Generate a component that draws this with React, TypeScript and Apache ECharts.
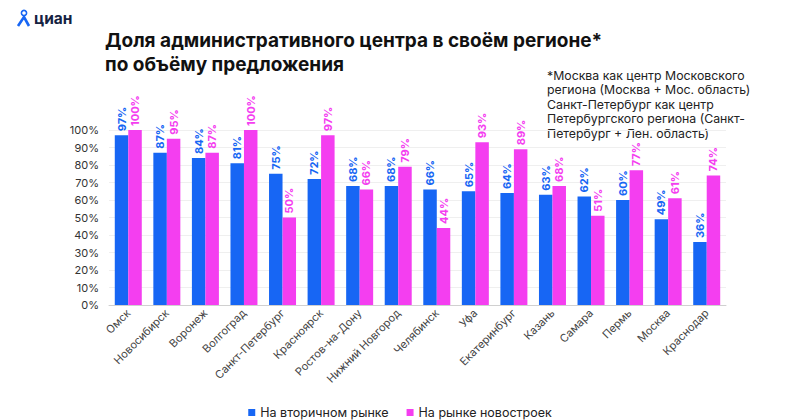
import React, { useEffect, useRef } from "react";
import * as echarts from "echarts";

const categories = [
  "Омск", "Новосибирск", "Воронеж", "Волгоград", "Санкт-Петербург", "Красноярск",
  "Ростов-на-Дону", "Нижний Новгород", "Челябинск", "Уфа", "Екатеринбург",
  "Казань", "Самара", "Пермь", "Москва", "Краснодар",
];
const secondary = [97, 87, 84, 81, 75, 72, 68, 68, 66, 65, 64, 63, 62, 60, 49, 36];
const newBuild = [100, 95, 87, 100, 50, 97, 66, 79, 44, 93, 89, 68, 51, 77, 61, 74];
const seriesNames = ["На вторичном рынке", "На рынке новостроек"];
const titleLines = ["Доля административного центра в своём регионе*", "по объёму предложения"];
const footnote = [
  "*Москва как центр Московского",
  "региона (Москва + Мос. область)",
  "Санкт-Петербург как центр",
  "Петербургского региона (Санкт-",
  "Петербург + Лен. область)",
];

const BLUE = "#1766f4";
const PINK = "#f43ef0";
const FONT = "Inter, Roboto, 'Noto Sans', sans-serif";

export default function App() {
  const ref = useRef<HTMLDivElement>(null);
  useEffect(() => {
    if (!ref.current) return;
    const chart = echarts.init(ref.current, null, { renderer: "svg" });
    const label = (color: string) => ({
      show: true,
      position: "top",
      rotate: 90,
      align: "left",
      verticalAlign: "middle",
      distance: 4,
      formatter: "{c}%",
      color,
      fontWeight: "bold",
      fontSize: 11,
      fontFamily: FONT,
    });
    const titleStyle = (text: string) => ({
      text,
      fontSize: 19,
      fontWeight: "bold",
      fill: "#111111",
      fontFamily: FONT,
    });
    chart.setOption({
      animation: false,
      backgroundColor: "#ffffff",
      textStyle: { fontFamily: FONT },
      graphic: [
        {
          type: "circle",
          shape: { cx: 24, cy: 13, r: 2.6 },
          style: { fill: "none", stroke: BLUE, lineWidth: 1.6 },
        },
        {
          type: "polyline",
          shape: { points: [[18, 26], [24, 17], [29, 26]] },
          style: { fill: "none", stroke: BLUE, lineWidth: 2.6 },
        },
        {
          type: "text",
          x: 34,
          y: 10,
          style: { text: "циан", fontSize: 15.5, fontWeight: "bold", fill: "#152242", fontFamily: FONT },
        },
        { type: "text", x: 105, y: 31, style: titleStyle(titleLines[0]) },
        { type: "text", x: 105, y: 54.5, style: titleStyle(titleLines[1]) },
        {
          type: "text",
          x: 547,
          y: 68,
          style: {
            text: footnote.join("\n"),
            fontSize: 12.3,
            lineHeight: 14.5,
            fill: "#222222",
            fontFamily: FONT,
          },
        },
      ],
      legend: {
        left: "center",
        top: 401,
        icon: "rect",
        itemWidth: 7,
        itemHeight: 7,
        itemGap: 18,
        textStyle: { fontSize: 12.5, color: "#222", fontFamily: FONT },
        data: seriesNames,
      },
      grid: { left: 109, right: 74, top: 130, bottom: 115, containLabel: false },
      xAxis: {
        type: "category",
        data: categories,
        axisLine: { lineStyle: { color: "#d0d0d0" } },
        axisTick: { show: false },
        axisLabel: {
          interval: 0,
          rotate: 45,
          fontSize: 11,
          color: "#444",
          margin: 6,
          fontFamily: FONT,
        },
      },
      yAxis: {
        type: "value",
        min: 0,
        max: 100,
        interval: 10,
        axisLabel: { formatter: "{value}%", fontSize: 11, color: "#333", margin: 10, fontFamily: FONT },
        splitLine: { lineStyle: { color: "#efefef" } },
        axisLine: { show: false },
        axisTick: { show: false },
      },
      series: [
        {
          name: seriesNames[0],
          type: "bar",
          data: secondary,
          itemStyle: { color: BLUE },
          barGap: "0%",
          barCategoryGap: "30%",
          label: label(BLUE),
        },
        {
          name: seriesNames[1],
          type: "bar",
          data: newBuild,
          itemStyle: { color: PINK },
          barGap: "0%",
          barCategoryGap: "30%",
          label: label(PINK),
        },
      ],
    });
    return () => chart.dispose();
  }, []);
  return <div ref={ref} style={{ width: 800, height: 420, position: "absolute", left: 0, top: 0 }} />;
}
